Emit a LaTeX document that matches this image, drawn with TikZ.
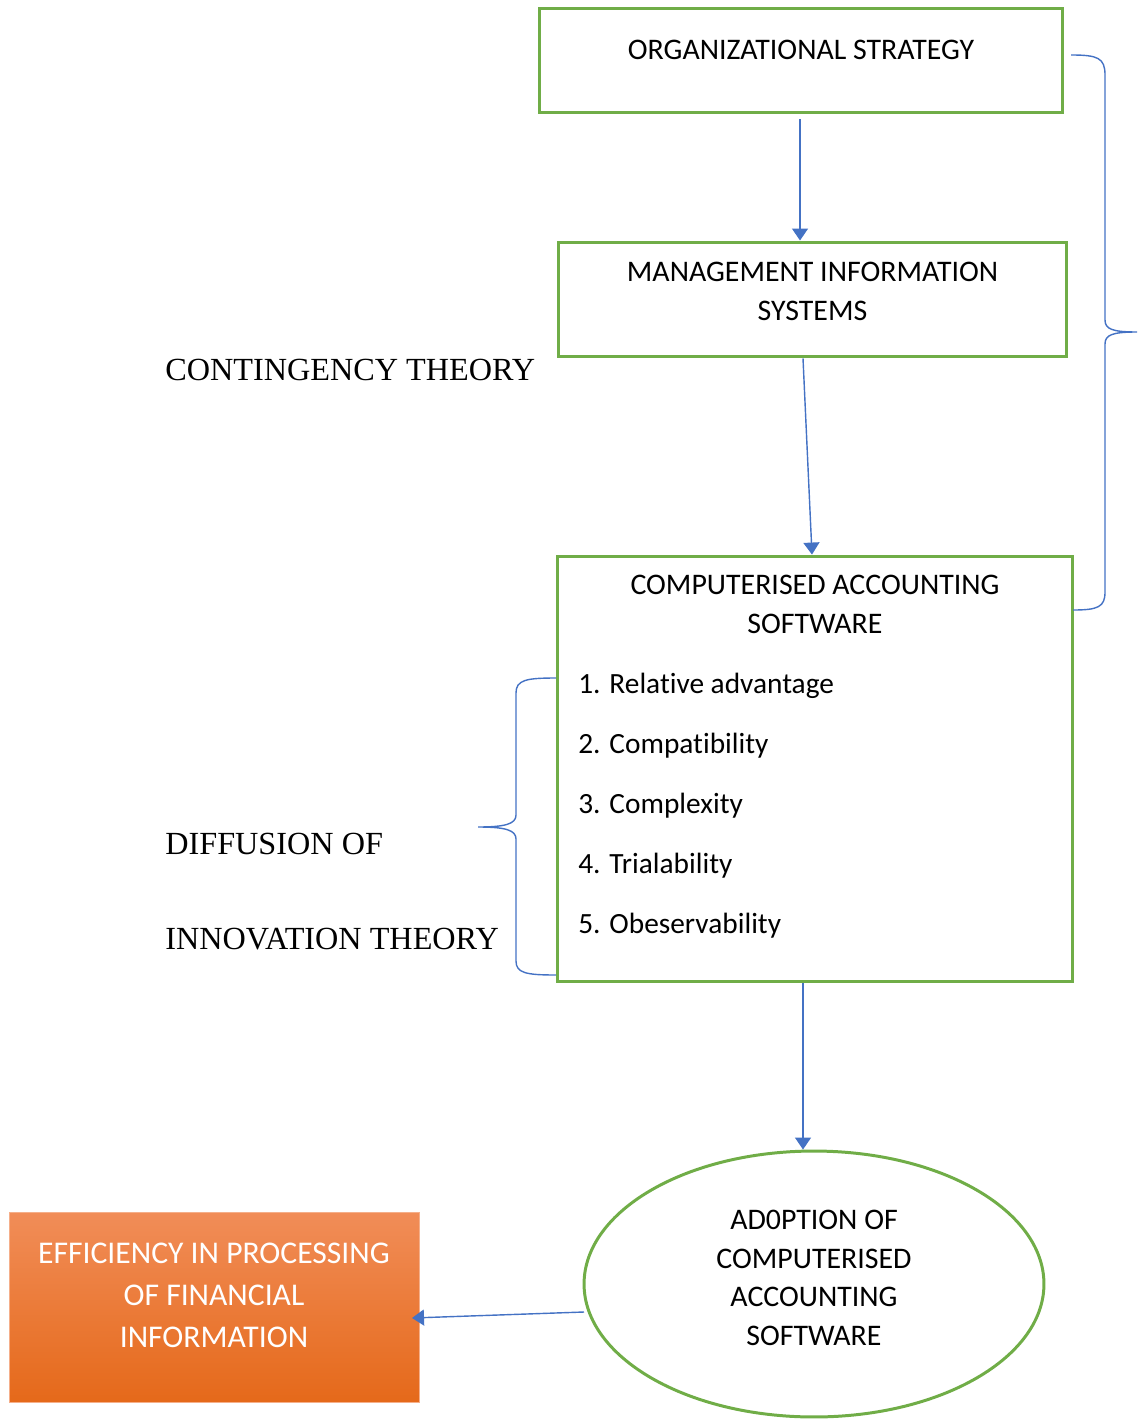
\documentclass[tikz,border=0pt]{standalone}
\usepackage{fontspec}
\setmainfont{Liberation Serif}
\newfontfamily\boxfont[Ligatures=NoCommon]{Carlito}
\usetikzlibrary{arrows.meta, positioning, shapes.geometric}

\definecolor{boxgreen}{HTML}{70AD47}
\definecolor{linkblue}{HTML}{4472C4}
\definecolor{orangetop}{HTML}{F18D58}
\definecolor{orangebot}{HTML}{E5691A}

\begin{document}
\begin{tikzpicture}[x=0.02cm, y=-0.02cm]
\useasboundingbox (0, 0) rectangle (1137, 1419);

\begin{scope}[every node/.style={draw=boxgreen, line width=1.7pt, fill=white, inner sep=0pt}]
    \node (strat) at (801, 60.5) [rectangle, minimum width=10.48cm, minimum height=2.1cm] {};
    \node (mis) at (812.5, 299.5) [rectangle, minimum width=10.18cm, minimum height=2.3cm] {};
    \node (cas) at (815, 769) [rectangle, minimum width=10.32cm, minimum height=8.52cm] {};
    \node (adopt) at (814, 1284) [ellipse, minimum width=9.2cm, minimum height=5.32cm] {};
\end{scope}

\node (eff) at (214, 1307) [rectangle, inner sep=0pt, draw=orangetop!70!white, line width=0.4pt,
    top color=orangetop, bottom color=orangebot,
    minimum width=8.2cm, minimum height=3.8cm] {};

\begin{scope}[every node/.style={font=\boxfont\fontsize{17}{22}\selectfont, align=center, inner sep=0pt}]
    \node (strattext) at (801, 50) {ORGANIZATIONAL STRATEGY};
    \node (mistext) at (812.5, 291.5) {MANAGEMENT INFORMATION\\SYSTEMS};
    \node (castext) at (815, 604.5) {COMPUTERISED ACCOUNTING\\SOFTWARE};
    \node (adopttext) at (814, 1278) {AD0PTION OF\\COMPUTERISED\\ACCOUNTING\\SOFTWARE};
    \node (efftext) at (214, 1295.5) [text=white, font=\boxfont\fontsize{18}{24}\selectfont]
        {EFFICIENCY IN PROCESSING\\OF FINANCIAL\\INFORMATION};
\end{scope}

\begin{scope}[every node/.style={font=\boxfont\fontsize{16.7}{22}\selectfont, anchor=base west, inner sep=0pt}]
    \node (item1) at (578, 693) {1. Relative advantage};
    \node (item2) at (578, 753) {2. Compatibility};
    \node (item3) at (578, 813) {3. Complexity};
    \node (item4) at (578, 873) {4. Trialability};
    \node (item5) at (578, 933) {5. Obeservability};
\end{scope}

\begin{scope}[every node/.style={font=\fontsize{18.35}{22}\selectfont, anchor=base west, inner sep=0pt}]
    \node (contin) at (165, 380) {CONTINGENCY THEORY};
    \node (diffus) at (165, 854) {DIFFUSION OF};
    \node (innov) at (165, 949) {INNOVATION THEORY};
\end{scope}

% braces
\coordinate (rtop) at (1071, 55);
\coordinate (rtip) at (1137, 332);
\coordinate (rbot) at (1073, 610);
\coordinate (ltop) at (556, 678);
\coordinate (ltip) at (478, 827);
\coordinate (lbot) at (556, 975);

\begin{scope}[draw=linkblue, line width=0.8pt]
    \draw (rtop) .. controls (1098, 55) and (1105, 58) .. (1105, 75) -- (1105, 320)
        .. controls (1105, 329) and (1112, 332) .. (rtip)
        .. controls (1112, 332) and (1105, 335) .. (1105, 344) -- (1105, 592)
        .. controls (1105, 607) and (1098, 610) .. (rbot);
    \draw (ltop) .. controls (526, 678) and (516, 680) .. (516, 693) -- (516, 815)
        .. controls (516, 824) and (505, 827) .. (ltip)
        .. controls (505, 827) and (516, 830) .. (516, 839) -- (516, 961)
        .. controls (516, 973) and (526, 975) .. (lbot);
\end{scope}

\begin{scope}[>={Triangle[width=3.2mm, length=2.4mm]}, line width=0.8pt]
    \coordinate (a1) at ([xshift=-0.02cm, yshift=-0.1cm]strat.south);
    \coordinate (a2) at ([xshift=-0.19cm]mis.south);
    \coordinate (b2) at ([xshift=-0.06cm]cas.north);
    \coordinate (a3) at ([xshift=-0.24cm]cas.south);
    \coordinate (a4) at (584, 1312);
    \coordinate (b4) at (412, 1318);
    \draw [->, draw=linkblue, fill=linkblue] (a1) -- (a1 |- mis.north);
    \draw [->, draw=linkblue, fill=linkblue] (a2) -- (b2);
    \draw [->, draw=linkblue, fill=linkblue] (a3) -- (a3 |- adopt.north);
    \draw [->, draw=linkblue, fill=linkblue] (a4) -- (b4);
\end{scope}
\end{tikzpicture}
\end{document}
